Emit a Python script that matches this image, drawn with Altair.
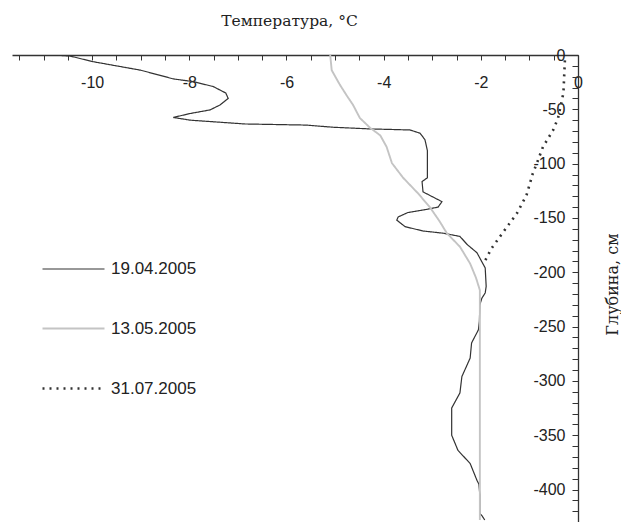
import altair as alt
import pandas as pd

series_names = ["19.04.2005", "13.05.2005", "31.07.2005"]
series_colors = ["#333333", "#c4c4c4", "#333333"]
series_dash = [[1, 0], [1, 0], [2, 5]]
series_widths = [1.2, 2.6, 1.0]

# 19.04.2005
t_a = [-10.8, -10.45, -10.0, -9.0, -8.33, -7.92, -7.51, -7.25, -7.2, -7.37, -7.57, -8.0, -8.33,
       -7.98, -6.85, -5.6, -5.04, -4.3, -3.46, -3.25, -3.15, -3.1, -3.1, -3.21, -3.19, -2.8,
       -2.88, -3.1, -3.5, -3.7, -3.73, -3.56, -3.19, -2.78, -2.43, -2.28, -2.08, -1.91, -1.89,
       -1.91, -1.98, -2.02, -2.03, -2.05, -2.19, -2.22, -2.39, -2.43, -2.6, -2.6, -2.47, -2.22,
       -2.08, -2.04, -2.02, -2.02, -1.97, -1.92]
d_a = [0, -1, -6, -14, -22, -24.5, -29, -35, -40, -46, -50.5, -54, -57.5,
       -60, -63.5, -64.5, -66.5, -68, -69, -72, -78, -88, -113, -116.5, -126, -135,
       -140, -142, -145, -149, -152, -158, -162, -164, -167, -174.5, -182, -196, -213,
       -219, -224, -230, -245, -253, -265, -279, -296, -311, -325, -350, -364, -376,
       -391.5, -395, -405, -422, -424.5, -428]

# 13.05.2005
t_b = [-5.1, -5.07, -4.9, -4.75, -4.63, -4.49, -4.28, -4.07, -3.94, -3.83, -3.6, -3.3, -3.05,
       -2.85, -2.7, -2.43, -2.22, -2.1, -2.02, -2.02]
d_b = [0, -14, -27.5, -38, -46, -58, -67, -74, -84.5, -99.5, -113, -127, -140,
       -153, -164, -176.5, -192, -205, -216.5, -428]

# 31.07.2005
t_c = [-0.27, -0.3, -0.41, -0.51, -0.72, -0.85, -0.93, -1.06, -1.26, -1.54, -1.78, -1.92]
d_c = [-5, -35, -58, -69, -84.5, -100, -109, -129, -146, -163, -178, -190]

x_tick_values = [-11.5, -11, -10.5, -10, -9.5, -9, -8.5, -8, -7.5, -7, -6.5, -6, -5.5, -5,
                 -4.5, -4, -3.5, -3, -2.5, -2, -1.5, -1, -0.5, 0]
y_tick_values = list(range(0, -440, -10))

rows = []
for name, ts, ds in zip(series_names, [t_a, t_b, t_c], [d_a, d_b, d_c]):
    for i, (t, d) in enumerate(zip(ts, ds)):
        rows.append({"series": name, "t": t, "depth": d, "idx": i})
df = pd.DataFrame(rows)

W, H = 566, 478

xscale = alt.Scale(domain=[-11.65, 0], nice=False, zero=False)
yscale = alt.Scale(domain=[-440, 0], nice=False, zero=False)

xaxis = alt.Axis(
    orient="bottom", offset=-H, values=x_tick_values, grid=False,
    labelExpr="datum.value % 2 == 0 ? '' + datum.value : ''",
    tickSize=5, tickColor="#333", tickWidth=1, domainColor="#333", domainWidth=1.3,
    labelFont="Liberation Sans", labelFontSize=16, labelColor="#222",
    labelBaseline="middle", labelPadding=22, labelFlush=False, labelOverlap=False,
    title="Температура, °C", titleFont="DejaVu Serif", titleFontSize=15.5,
    titleFontWeight="normal", titleColor="#222", titleX=277, titleY=-35,
    titleBaseline="middle", titleAlign="center", titleAngle=0,
)
yaxis = alt.Axis(
    orient="left", offset=-W, values=y_tick_values, grid=False,
    labelExpr="datum.value % 50 == 0 ? '' + datum.value : ''",
    tickSize=6, tickColor="#333", tickWidth=1, domainColor="#333", domainWidth=1.3,
    labelFont="Liberation Sans", labelFontSize=16, labelColor="#222",
    labelBaseline="middle", labelPadding=7, labelFlush=False, labelOverlap=False,
    title="Глубина, см", titleFont="DejaVu Serif", titleFontSize=16,
    titleFontWeight="normal", titleColor="#222", titleX=34, titleY=229,
    titleBaseline="middle", titleAlign="center", titleAngle=270,
)

legend = alt.Legend(
    orient="none", legendX=29, legendY=182, title=None,
    symbolType="stroke", symbolSize=3844,
    labelFont="Liberation Sans", labelFontSize=17, labelColor="#222",
    labelOffset=5, rowPadding=19.5,
)

def layer(name):
    return alt.Chart(df).transform_filter(
        alt.datum.series == name
    ).mark_line(clip=True).encode(
        x=alt.X("t:Q", scale=xscale, axis=xaxis),
        y=alt.Y("depth:Q", scale=yscale, axis=yaxis),
        order=alt.Order("idx:Q"),
        color=alt.Color("series:N", scale=alt.Scale(domain=series_names, range=series_colors), legend=legend),
        strokeDash=alt.StrokeDash("series:N", scale=alt.Scale(domain=series_names, range=series_dash), legend=legend),
        strokeWidth=alt.StrokeWidth("series:N", scale=alt.Scale(domain=series_names, range=series_widths), legend=legend),
    )

chart = alt.layer(layer(series_names[0]), layer(series_names[1]), layer(series_names[2])).properties(
    width=W, height=H,
    autosize=alt.AutoSizeParams(type="none"),
    padding={"left": 4, "top": 47, "right": 43, "bottom": -11},
    background="white",
).configure_view(stroke=None)

chart.save("out.html", embed_options={"renderer": "svg", "actions": False})
